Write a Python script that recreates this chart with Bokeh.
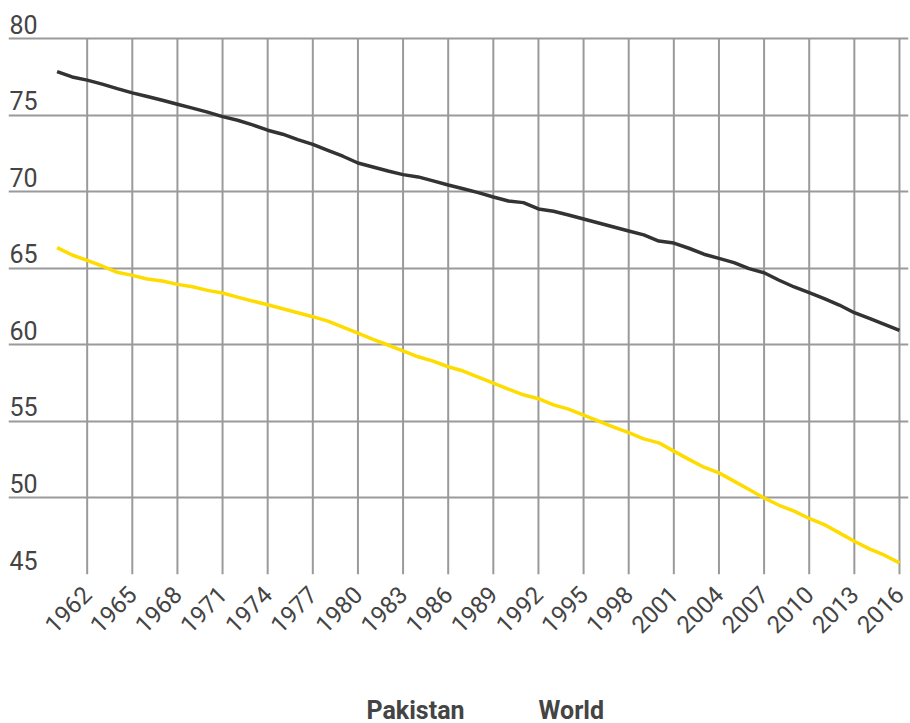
import math
from bokeh.plotting import figure
from bokeh.layouts import column
from bokeh.core.properties import value
from bokeh.models import (Range1d, FixedTicker, ColumnDataSource, LabelSet)
from bokeh.embed import file_html
from bokeh.resources import INLINE

years = list(range(1960, 2017))
pakistan = [77.85, 77.5, 77.29, 77.03, 76.74, 76.46, 76.22, 75.98, 75.72, 75.46,
            75.2, 74.91, 74.67, 74.37, 74.02, 73.76, 73.41, 73.1, 72.71, 72.32,
            71.88, 71.62, 71.36, 71.12, 70.97, 70.71, 70.44, 70.2, 69.94, 69.66,
            69.4, 69.29, 68.88, 68.73, 68.48, 68.22, 67.96, 67.7, 67.44, 67.18,
            66.78, 66.65, 66.31, 65.92, 65.65, 65.37, 64.98, 64.71, 64.22, 63.78,
            63.41, 63.02, 62.6, 62.1, 61.73, 61.34, 60.95]
world = [66.35, 65.87, 65.52, 65.15, 64.74, 64.54, 64.3, 64.17, 63.95, 63.8,
         63.56, 63.39, 63.12, 62.86, 62.62, 62.36, 62.1, 61.84, 61.55, 61.16,
         60.77, 60.36, 59.99, 59.6, 59.22, 58.94, 58.57, 58.29, 57.9, 57.5,
         57.11, 56.74, 56.48, 56.08, 55.8, 55.41, 55.02, 54.63, 54.26, 53.86,
         53.6, 53.06, 52.52, 52.01, 51.64, 51.1, 50.55, 50.0, 49.52, 49.14,
         48.66, 48.26, 47.72, 47.17, 46.67, 46.26, 45.76]
x_ticks = list(range(1962, 2017, 3))
y_ticks = [45, 50, 55, 60, 65, 70, 75, 80]
y_tick_labels = [str(v) for v in y_ticks]
series_names = ["Pakistan", "World"]
series_colors = ["#333333", "#FFDC00"]

FONT = "Roboto"
TXT = "#444444"
GRID = "#9a9a9a"
X0, X1 = 1956.77, 2016.6
Y0, Y1 = 45, 81.97

p = figure(frame_width=900, frame_height=566, output_backend="svg", toolbar_location=None,
           x_range=Range1d(X0, X1), y_range=Range1d(Y0, Y1),
           min_border_left=8, min_border_right=2, min_border_top=8, min_border_bottom=121)
p.outline_line_color = None
p.background_fill_color = "white"
p.border_fill_color = "white"

# horizontal grid
p.xgrid.visible = False
p.ygrid.ticker = FixedTicker(ticks=y_ticks)
p.ygrid.grid_line_color = GRID
p.ygrid.grid_line_width = 2
p.yaxis.visible = False

# vertical grid segments spanning the y tick extent
p.segment(x0=x_ticks, y0=[min(y_ticks)] * len(x_ticks), x1=x_ticks, y1=[max(y_ticks)] * len(x_ticks),
          line_color=GRID, line_width=2)

# x axis
p.xaxis.ticker = FixedTicker(ticks=x_ticks)
p.xaxis.axis_line_color = None
p.xaxis.major_tick_line_color = None
p.xaxis.minor_tick_line_color = None
p.xaxis.major_label_orientation = math.pi / 4
p.xaxis.major_label_text_font = FONT
p.xaxis.major_label_text_font_size = "24px"
p.xaxis.major_label_text_color = TXT
p.xaxis.major_label_standoff = 10

# y labels above the grid lines
ysrc = ColumnDataSource(dict(x=[X0] * len(y_ticks), y=y_ticks, t=y_tick_labels))
p.add_layout(LabelSet(x="x", y="y", text="t", source=ysrc, x_offset=1, y_offset=5,
                      text_baseline="bottom", text_align="left", text_font=value(FONT),
                      text_font_size=value("25px"), text_color=TXT))

p.line(years, pakistan, line_color=series_colors[0], line_width=3.5)
p.line(years, world, line_color=series_colors[1], line_width=3.5)

# legend strip (series names as plain text, no swatches, as in the reference)
STRIP_W, STRIP_H = 910, 28
p2 = figure(width=STRIP_W, height=STRIP_H, output_backend="svg", toolbar_location=None,
            x_range=Range1d(0, STRIP_W), y_range=Range1d(0, STRIP_H),
            min_border_left=0, min_border_right=0, min_border_top=0, min_border_bottom=0)
p2.axis.visible = False
p2.grid.visible = False
p2.outline_line_color = None
legend_x = [362, 536]
lsrc = ColumnDataSource(dict(x=legend_x, y=[5] * len(series_names), t=series_names))
p2.add_layout(LabelSet(x="x", y="y", text="t", source=lsrc, text_align="left",
                       text_baseline="alphabetic", text_font=value(FONT), text_font_size=value("25px"),
                       text_font_style="bold", text_color=TXT))

layout = column(p, p2, spacing=0)
open("out.html", "w").write(file_html(layout, INLINE))
